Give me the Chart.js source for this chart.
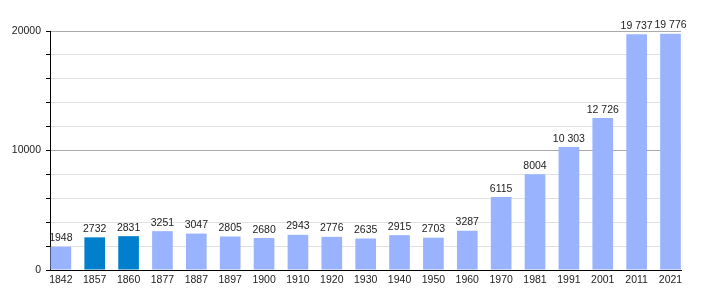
<!DOCTYPE html>
<html>
<head>
<meta charset="utf-8">
<script src="https://cdn.jsdelivr.net/npm/chart.js@4/dist/chart.umd.min.js"></script>
<style>
  html, body { margin: 0; padding: 0; background: #fff; }
  #wrap { width: 710px; height: 300px; }
</style>
</head>
<body>
<div id="wrap"><canvas id="popChart" width="710" height="300"></canvas></div>
<script>
// années de recensement et population
const years = ["1842", "1857", "1860", "1877", "1887", "1897", "1900", "1910", "1920", "1930",
               "1940", "1950", "1960", "1970", "1981", "1991", "2001", "2011", "2021"];
const population = [1948, 2732, 2831, 3251, 3047, 2805, 2680, 2943, 2776, 2635,
                    2915, 2703, 3287, 6115, 8004, 10303, 12726, 19737, 19776];
const highlightYears = ["1857", "1860"]; // barres en bleu foncé
const yTickLabels = [0, 10000, 20000];

const lightBlue = "#99b3ff";
const darkBlue = "#0080cc";

// 10303 -> "10 303", mais 2732 reste "2732"
function formatPop(v) {
    if (v < 10000) return String(v);
    return String(v).replace(/\B(?=(\d{3})+(?!\d))/g, " ");
}

// étiquettes au-dessus des barres
const valueLabels = {
    id: "valueLabels",
    afterDatasetsDraw(chart) {
        const ctx = chart.ctx;
        const meta = chart.getDatasetMeta(0);
        ctx.save();
        ctx.font = "10.5px 'Liberation Sans', Arial, sans-serif";
        ctx.fillStyle = "#222";
        ctx.textAlign = "center";
        ctx.textBaseline = "bottom";
        meta.data.forEach((bar, i) => {
            ctx.fillText(formatPop(population[i]), bar.x, bar.y - 3);
        });
        ctx.restore();
    }
};

const ctx = document.getElementById("popChart").getContext("2d");
new Chart(ctx, {
    type: "bar",
    data: {
        datasets: [{
            data: population.map((v, i) => ({ x: i, y: v })),
            backgroundColor: years.map(y => highlightYears.includes(y) ? darkBlue : lightBlue),
            borderWidth: 0,
            categoryPercentage: 1,
            barPercentage: 0.61,
        }]
    },
    options: {
        responsive: false,
        animation: false,
        layout: { padding: { top: 31, right: 29, left: 0, bottom: 0 } },
        plugins: {
            legend: { display: false },
            tooltip: { enabled: false },
        },
        scales: {
            x: {
                type: "linear",
                offset: false,
                min: -0.32,
                max: 18.31,
                afterFit: (s) => { s.height = 30; },
                ticks: {
                    stepSize: 1,
                    includeBounds: false,
                    autoSkip: false,
                    maxRotation: 0,
                    padding: 4,
                    color: "#222",
                    font: { family: "'Liberation Sans', Arial, sans-serif", size: 10.5 },
                    callback: (v) => years[v] ?? "",
                },
                grid: { drawOnChartArea: false, drawTicks: false },
                border: { display: true, color: "#000", width: 1 },
            },
            y: {
                min: 0,
                max: 20000,
                afterFit: (s) => { s.width = 50; },
                ticks: {
                    stepSize: 2000,
                    padding: 5,
                    color: "#222",
                    font: { family: "'Liberation Sans', Arial, sans-serif", size: 10.5 },
                    callback: (v) => yTickLabels.includes(v) ? String(v) : "",
                },
                grid: {
                    color: (c) => c.tick.value === 0 ? "rgba(0,0,0,0)" :
                        (c.tick.value % 10000 === 0 ? "#aaaaaa" : "#e0e0e0"),
                    tickColor: "#000",
                    tickLength: 4,
                },
                border: { display: true, color: "#000", width: 1 },
            }
        }
    },
    plugins: [valueLabels]
});
</script>
</body>
</html>
